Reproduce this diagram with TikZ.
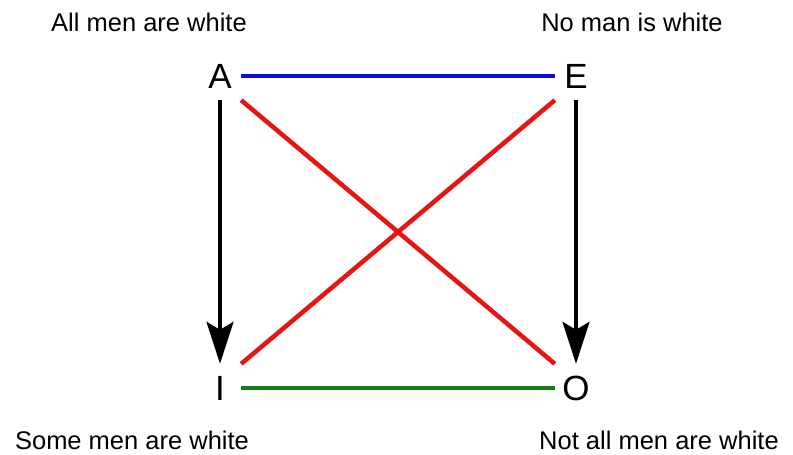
\documentclass[tikz,border=0pt]{standalone}
\usepackage{fontspec}
\setmainfont{Liberation Sans}
\usepackage{xcolor}
\usetikzlibrary{arrows.meta,positioning}
\definecolor{ink}{HTML}{000000}
\definecolor{lineblue}{HTML}{0A0AE6}
\definecolor{linered}{HTML}{E81414}
\definecolor{linegreen}{HTML}{0F7F14}
\tikzset{
  corner/.style={minimum width=42pt,minimum height=48pt,inner sep=0pt,
                 font=\fontsize{35}{40}\selectfont,text=ink},
  caption/.style={font=\fontsize{25.5}{30}\selectfont,text=ink,inner sep=0pt},
  implarr/.style={-{Stealth[length=42pt,width=27pt,inset=8pt]},line width=3.5pt,color=ink},
  oppline/.style={line width=4.5pt},
}

\begin{document}
\begin{tikzpicture}[x=1pt,y=-1pt]
  \useasboundingbox (0,0) rectangle (793,455);
  % corners of the square
  \node[corner] (A) at (220,76) {A};
  \node[corner] (E) at (576,76) {E};
  \node[corner] (I) at (220,388) {I};
  \node[corner] (O) at (576,388) {O};
  % sentences
  \node[caption] (capA) at (149,22) {All men are white};
  \node[caption] (capE) at (632,22) {No man is white};
  \node[caption] (capI) at (132,440) {Some men are white};
  \node[caption] (capO) at (659,440) {Not all men are white};
  % relations
  \draw[oppline,lineblue] (A.east) -- (E.west);
  \draw[oppline,linegreen] (I.east) -- (O.west);
  \draw[oppline,linered] (A.south east) -- (O.north west);
  \draw[oppline,linered] (E.south west) -- (I.north east);
  \draw[implarr] (A.south) -- (I.north);
  \draw[implarr] (E.south) -- (O.north);
\end{tikzpicture}
\end{document}
